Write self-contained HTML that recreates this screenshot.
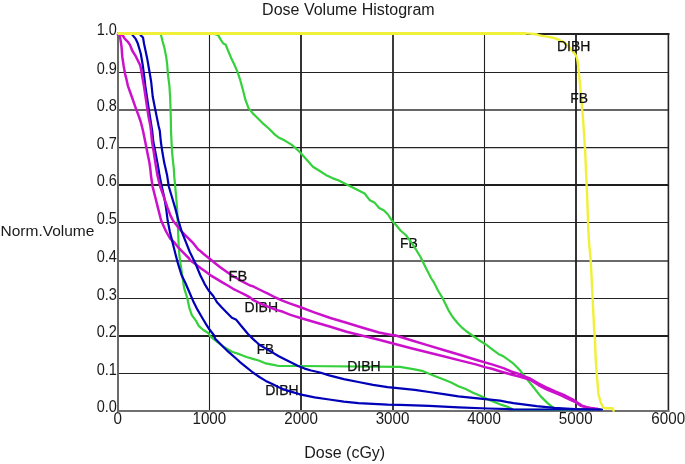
<!DOCTYPE html>
<html><head><meta charset="utf-8"><title>Dose Volume Histogram</title>
<style>
html,body{margin:0;padding:0;background:#fff;width:685px;height:464px;overflow:hidden}
svg{display:block}
.t{font-family:"Liberation Sans",Arial,sans-serif;fill:#1a1a1a}
.l{font-family:"Liberation Sans",Arial,sans-serif;fill:#111;stroke:#111;stroke-width:0.25}
</style></head>
<body>
<svg width="685" height="464" viewBox="0 0 685 464">
<rect width="685" height="464" fill="#fff"/>
<g fill="none">
<line x1="118" y1="72.5" x2="669" y2="72.5" stroke="#222" stroke-width="1.0"/>
<line x1="118" y1="110.0" x2="669" y2="110.0" stroke="#333" stroke-width="1.6"/>
<line x1="118" y1="147.6" x2="669" y2="147.6" stroke="#222" stroke-width="1.1"/>
<line x1="118" y1="185.0" x2="669" y2="185.0" stroke="#1e1e1e" stroke-width="1.8"/>
<line x1="118" y1="222.5" x2="669" y2="222.5" stroke="#222" stroke-width="1.0"/>
<line x1="118" y1="261.0" x2="669" y2="261.0" stroke="#383838" stroke-width="1.6"/>
<line x1="118" y1="298.5" x2="669" y2="298.5" stroke="#222" stroke-width="1.0"/>
<line x1="118" y1="336.0" x2="669" y2="336.0" stroke="#1e1e1e" stroke-width="1.8"/>
<line x1="118" y1="373.5" x2="669" y2="373.5" stroke="#222" stroke-width="1.1"/>
<line x1="209.5" y1="34" x2="209.5" y2="410" stroke="#222" stroke-width="1.1"/>
<line x1="301.0" y1="34" x2="301.0" y2="410" stroke="#1e1e1e" stroke-width="1.8"/>
<line x1="393.0" y1="34" x2="393.0" y2="410" stroke="#262626" stroke-width="1.8"/>
<line x1="484.5" y1="34" x2="484.5" y2="410" stroke="#222" stroke-width="1.1"/>
<line x1="576.0" y1="34" x2="576.0" y2="410" stroke="#1e1e1e" stroke-width="1.8"/>
</g>
<g fill="none" stroke-width="2">
<line x1="117" y1="34" x2="669.4" y2="34" stroke="#222"/>
<line x1="668.4" y1="33" x2="668.4" y2="412" stroke="#222" stroke-width="1.6"/>
<line x1="118" y1="33" x2="118" y2="412" stroke="#6a6a6a"/>
<line x1="117" y1="411" x2="669.4" y2="411" stroke="#707070"/>
</g>
<text class="t" font-size="16" x="262.10" y="14.80">Dose Volume Histogram</text>
<text class="t" font-size="15.5" x="0.50" y="236.20">Norm.Volume</text>
<text class="t" font-size="16" x="304.30" y="457.90">Dose (cGy)</text>
<text class="t" text-anchor="end" font-size="15.8" transform="translate(116.90 35.30) scale(0.9200 1)">1.0</text>
<text class="t" text-anchor="end" font-size="15.8" transform="translate(116.90 73.80) scale(0.9200 1)">0.9</text>
<text class="t" text-anchor="end" font-size="15.8" transform="translate(116.90 111.10) scale(0.9200 1)">0.8</text>
<text class="t" text-anchor="end" font-size="15.8" transform="translate(116.90 148.90) scale(0.9200 1)">0.7</text>
<text class="t" text-anchor="end" font-size="15.8" transform="translate(116.90 186.30) scale(0.9200 1)">0.6</text>
<text class="t" text-anchor="end" font-size="15.8" transform="translate(116.90 223.80) scale(0.9200 1)">0.5</text>
<text class="t" text-anchor="end" font-size="15.8" transform="translate(116.90 261.90) scale(0.9200 1)">0.4</text>
<text class="t" text-anchor="end" font-size="15.8" transform="translate(116.90 299.70) scale(0.9200 1)">0.3</text>
<text class="t" text-anchor="end" font-size="15.8" transform="translate(116.90 336.90) scale(0.9200 1)">0.2</text>
<text class="t" text-anchor="end" font-size="15.8" transform="translate(116.90 374.70) scale(0.9200 1)">0.1</text>
<text class="t" text-anchor="end" font-size="15.8" transform="translate(116.90 412.20) scale(0.9200 1)">0.0</text>
<text class="t" text-anchor="middle" font-size="15.8" transform="translate(117.70 424.40) scale(0.9600 1)">0</text>
<text class="t" text-anchor="middle" font-size="15.8" transform="translate(209.30 424.40) scale(0.9600 1)">1000</text>
<text class="t" text-anchor="middle" font-size="15.8" transform="translate(301.10 424.40) scale(0.9600 1)">2000</text>
<text class="t" text-anchor="middle" font-size="15.8" transform="translate(392.50 424.40) scale(0.9600 1)">3000</text>
<text class="t" text-anchor="middle" font-size="15.8" transform="translate(484.10 424.40) scale(0.9600 1)">4000</text>
<text class="t" text-anchor="middle" font-size="15.8" transform="translate(575.70 424.40) scale(0.9600 1)">5000</text>
<text class="t" text-anchor="middle" font-size="15.8" transform="translate(668.20 424.40) scale(0.9600 1)">6000</text>
<g fill="none" stroke-width="2.2" stroke-linejoin="round" stroke-linecap="round">
<text class="l" font-size="15.5" transform="translate(399.90 247.90) scale(0.9000 1)">FB</text>
<polyline stroke="#36d03c" points="118.0,33.5 212.9,33.5 218.1,35.1 220.7,39.6 223.3,43.5 225.8,44.8 227.8,50.0 231.0,57.7 234.2,64.2 237.5,71.9 240.1,79.7 242.9,89.7 245.3,99.4 248.6,108.3 252.6,113.1 257.5,118.0 262.3,122.8 268.8,128.5 275.2,134.9 278.5,137.4 284.9,140.6 291.4,144.6 296.2,148.7 300.0,152.3 306.5,159.5 312.9,166.8 319.4,170.8 325.8,174.9 332.3,178.1 338.8,180.5 345.2,183.8 351.7,187.0 358.2,190.2 364.6,193.5 369.5,199.9 374.3,202.4 379.2,208.0 384.0,210.4 388.0,214.5 391.3,219.7 396.2,225.3 401.0,231.0 405.8,235.0 410.7,241.5 415.5,248.8 420.4,256.8 424.4,264.9 428.5,273.0 431.0,278.0 434.2,282.9 438.1,290.7 442.0,297.1 445.2,303.6 448.4,310.1 452.3,316.5 457.5,323.0 462.6,328.2 466.0,331.0 470.9,334.5 479.0,340.2 485.5,344.2 491.9,349.1 498.4,353.9 503.8,356.6 512.5,362.8 519.5,369.8 526.5,378.5 533.5,387.3 540.5,396.1 547.6,403.1 552.8,407.4 558.0,409.0 600.0,409.6"/>
<polyline stroke="#36d03c" points="118.0,33.5 160.0,33.5 161.0,35.0 162.4,40.8 164.5,48.3 166.2,56.9 167.2,64.5 167.8,73.1 168.6,79.5 169.4,85.8 170.1,96.5 170.5,107.3 170.8,118.1 171.0,130.8 171.5,141.5 172.1,152.3 173.2,163.1 173.9,169.5 174.2,175.8 175.2,186.5 176.2,197.3 177.2,210.0 177.9,226.2 178.5,242.3 179.3,255.0 180.4,262.9 182.3,275.8 184.1,287.9 187.3,298.3 189.2,307.3 191.8,315.1 195.7,320.3 198.9,326.1 203.4,330.0 208.6,333.2 210.1,336.2 216.5,341.4 223.0,346.5 232.0,351.7 240.0,354.4 246.5,357.0 252.9,358.9 259.4,360.8 265.8,363.4 272.3,364.7 278.8,366.0 300.0,366.0 400.0,366.8 414.6,369.4 421.9,370.8 429.2,373.8 436.5,376.7 443.8,379.6 451.1,382.5 458.4,386.2 465.7,389.1 473.0,392.7 480.3,395.7 487.6,399.3 494.9,402.2 501.7,404.9 507.5,406.7 513.0,409.5 570.0,410.0"/>
<text class="l" font-size="14" x="347.20" y="370.60">DIBH</text>
<text class="l" font-size="14" x="244.60" y="311.50">DIBH</text>
<polyline stroke="#cc11cc" stroke-width="2.5" points="118.0,34.5 119.8,35.2 121.5,46.2 122.3,56.9 123.6,65.5 125.0,73.5 126.5,79.5 127.9,85.8 131.7,96.5 135.5,107.3 138.7,115.9 140.8,122.0 143.0,130.8 145.2,141.5 147.3,152.3 149.5,163.1 150.4,169.5 151.0,175.8 152.6,186.5 155.3,197.3 158.0,208.1 161.2,220.8 166.1,231.5 169.8,238.0 174.2,242.3 178.5,247.7 183.8,253.1 189.2,258.5 190.0,260.2 195.4,264.0 200.8,268.3 206.2,272.1 211.5,275.9 216.9,279.1 222.3,282.3 227.7,285.5 233.1,288.8 238.5,291.5 243.9,294.2 250.0,297.4 252.8,299.8 260.3,303.5 267.9,306.6 275.4,309.6 283.0,311.8 290.5,314.9 300.5,318.0 314.2,322.0 330.4,326.8 346.5,331.7 362.7,335.7 378.9,339.8 394.0,343.8 411.2,348.3 427.3,352.3 443.5,356.3 459.6,360.4 475.8,364.4 484.9,367.1 491.9,368.8 498.9,371.0 505.0,372.8 511.2,374.5 518.2,376.3 524.3,378.0 530.0,379.8 538.8,385.3 547.6,389.8 556.3,393.3 562.2,395.8 565.1,397.3 572.1,400.6 575.0,401.8 580.9,405.9 586.7,407.4 594.9,408.6 597.2,408.8"/>
<text class="l" font-size="14" x="265.20" y="394.80">DIBH</text>
<polyline stroke="#0000b8" points="118.0,33.5 131.5,33.5 132.8,35.4 135.5,38.6 137.6,42.9 139.2,48.3 140.8,53.7 141.9,60.2 142.8,65.5 143.5,70.9 144.3,77.0 145.3,85.8 146.9,96.5 148.5,107.3 150.2,118.1 152.2,130.8 153.3,141.5 155.4,152.3 157.5,163.1 158.6,169.5 159.6,175.8 161.8,186.5 164.2,197.3 166.1,208.1 167.7,220.8 169.8,231.5 172.5,242.3 175.2,253.1 177.8,262.9 181.5,275.0 185.3,282.8 189.2,291.8 193.1,300.9 197.6,309.9 202.2,317.7 206.0,324.1 209.3,329.3 213.8,335.0 215.2,338.8 221.7,345.2 228.2,351.7 237.2,359.5 240.0,362.1 246.5,367.3 252.9,372.5 259.4,377.0 265.8,380.9 272.3,384.1 278.8,387.3 285.2,389.9 291.7,391.9 298.2,393.8 300.0,394.4 314.6,397.3 329.2,399.5 343.8,401.7 358.4,403.2 373.0,403.9 387.6,404.6 400.0,404.9 429.2,405.9 458.4,407.3 487.6,408.5 513.0,409.3 600.0,409.5"/>
<polyline stroke="#cc11cc" stroke-width="2.5" points="118.0,34.5 122.5,35.0 124.7,38.6 127.9,41.8 130.1,45.1 132.2,50.5 135.5,55.8 138.2,61.2 140.3,65.5 141.4,70.9 142.0,75.0 143.9,85.8 145.5,96.5 147.1,107.3 148.8,118.1 150.4,126.0 151.0,130.8 152.0,141.5 153.8,152.3 155.4,163.1 156.5,169.5 157.5,175.8 160.2,186.5 164.0,197.3 167.7,208.1 170.4,215.4 173.1,220.8 177.4,226.2 181.7,231.5 184.9,234.8 192.5,242.3 198.6,250.0 199.0,249.9 204.0,254.3 209.4,258.6 214.8,262.9 220.2,267.2 225.5,271.0 230.9,274.8 236.3,278.0 241.7,281.2 250.0,285.5 252.8,286.2 260.3,290.0 267.9,293.7 275.4,297.5 283.0,300.8 290.3,303.6 301.3,307.5 314.2,312.3 330.4,318.0 346.5,322.8 362.7,327.7 378.9,332.5 394.0,335.5 395.0,335.3 411.2,340.2 427.3,345.1 443.5,350.0 459.6,354.8 475.8,359.7 491.9,364.4 505.0,368.6 505.0,368.8 511.2,371.5 518.2,373.6 524.3,376.3 530.0,378.5 538.8,383.5 547.6,388.0 556.3,391.8 565.1,395.5 572.1,399.0 577.3,402.5 582.6,406.0 589.6,408.0 596.6,409.3"/>
<text class="l" font-size="15.5" transform="translate(228.60 280.50) scale(0.9389 1)">FB</text>
<text class="l" font-size="15.5" transform="translate(256.70 354.20) scale(0.8667 1)">FB</text>
<polyline stroke="#0000b8" points="118.0,33.5 139.5,33.5 140.8,35.4 143.0,37.5 144.1,44.0 145.7,51.5 147.3,59.1 148.4,65.5 149.7,73.0 151.2,82.0 152.7,96.5 154.8,107.3 157.0,118.1 158.6,126.0 159.8,130.8 160.8,141.5 162.4,152.3 164.3,163.1 165.8,169.5 167.2,175.8 168.8,186.5 172.0,197.3 175.2,208.1 178.5,220.8 181.7,231.5 186.0,242.3 189.8,252.0 195.2,262.9 200.2,275.0 204.7,284.1 208.6,290.5 213.1,295.7 217.0,302.2 221.6,307.3 226.7,312.5 231.9,317.7 235.9,319.4 241.1,325.8 248.0,334.0 252.9,338.9 259.4,344.7 265.8,348.6 272.3,352.4 278.8,356.3 285.2,359.6 291.7,362.8 298.2,366.0 304.6,368.6 311.1,370.5 320.0,372.5 329.2,375.4 343.8,379.1 358.4,382.0 373.0,384.9 387.6,387.1 400.0,388.4 414.6,389.8 429.2,392.0 443.8,394.2 458.4,396.4 473.0,397.8 487.6,399.3 500.0,400.6 513.4,403.2 536.7,406.1 554.2,407.8 575.0,409.0 602.0,409.5"/>
<polyline stroke="#f0f038" stroke-width="2.4" points="118.0,33.4 524.0,33.4 530.0,33.6 536.0,34.2 539.5,35.4 546.5,36.6 553.5,37.8 558.4,39.5 562.6,41.6 566.1,44.0 569.6,47.5 572.4,51.0 575.2,54.2 577.0,58.0 577.7,62.0 578.5,68.9 579.7,81.7 581.4,99.0 582.2,110.0 582.9,117.2 584.1,134.5 585.2,151.7 585.9,169.0 586.4,180.0 587.2,197.2 587.8,214.5 588.4,231.7 589.3,245.5 590.7,260.0 591.6,277.2 592.4,294.5 593.3,311.7 594.1,329.0 595.0,340.0 595.6,357.0 596.6,372.0 597.5,383.0 598.4,394.0 600.7,402.5 603.1,407.2 605.0,408.2 612.6,408.2 613.6,410.8"/>
<line x1="118" y1="33.4" x2="526" y2="33.4" stroke="#f0f038" stroke-width="3" stroke-linecap="butt"/>
<text class="l" font-size="14" x="557.00" y="50.90">DIBH</text>
<text class="l" font-size="15.5" transform="translate(570.20 102.60) scale(0.8944 1)">FB</text>
</g>
</svg>
</body></html>
